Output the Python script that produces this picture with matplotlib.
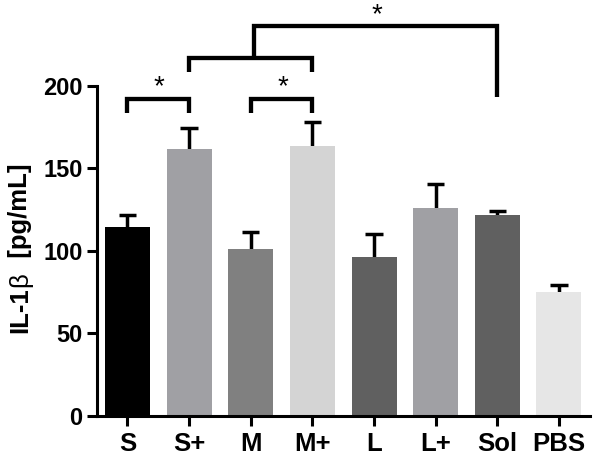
import matplotlib
matplotlib.use("Agg")
import matplotlib.pyplot as plt
from matplotlib.transforms import IdentityTransform

categories = ["S", "S+", "M", "M+", "L", "L+", "Sol", "PBS"]
means = [114.7, 161.8, 101.2, 163.8, 96.5, 125.9, 121.8, 75.3]
errors = [7.0, 13.0, 10.5, 14.5, 14.0, 14.5, 2.5, 4.0]
colors = ["#000000", "#a0a0a4", "#808080", "#d4d4d4", "#606060", "#a0a0a4", "#606060", "#e6e6e6"]
yticks = [0, 50, 100, 150, 200]

plt.rcParams['font.family'] = ['Liberation Sans', 'DejaVu Sans']

fig = plt.figure(figsize=(6.0, 4.59), dpi=100)
ax = fig.add_axes([0.161, 0.0937, 0.823, 0.719])

x = list(range(len(categories)))
ax.bar(x, means, width=0.73, color=colors, zorder=2)
tops = [m + e for m, e in zip(means, errors)]
ax.vlines(x, means, tops, color='black', lw=2.5, zorder=1)
ax.hlines(tops, [i - 0.14 for i in x], [i + 0.14 for i in x], color='black', lw=2.5, zorder=1)

ax.set_xlim(-0.5, 7.51)
ax.set_ylim(0, 200)
ax.set_yticks(yticks)
ax.set_xticks(x)
ax.set_xticklabels(categories, fontsize=18.5, fontweight='bold')
ax.set_yticklabels([str(t) for t in yticks], fontsize=17, fontweight='bold')
for s in ['top', 'right']:
    ax.spines[s].set_visible(False)
for s in ['left', 'bottom']:
    ax.spines[s].set_linewidth(2.2)
ax.tick_params(axis='both', direction='out', length=7, width=2.2, color='black')
ax.tick_params(axis='y', pad=3)
ax.tick_params(axis='x', pad=4.5)

lw = 3.1
kw = dict(color='black', lw=lw, clip_on=False, solid_joinstyle='miter', solid_capstyle='butt')
# bracket S vs S+
ax.plot([0, 0, 1, 1], [183.6, 192.3, 192.3, 183.6], **kw)
ax.text(0.51, 199, "*", ha='center', va='center', fontsize=20)
# bracket M vs M+
ax.plot([2, 2, 3, 3], [183.6, 192.3, 192.3, 183.6], **kw)
ax.text(2.52, 199, "*", ha='center', va='center', fontsize=20)
# bracket S+ to M+
ax.plot([1, 1, 3, 3], [208.7, 216.8, 216.8, 208.7], **kw)
# bracket group vs Sol
ax.plot([2.05, 2.05, 6, 6], [216.8, 236.5, 236.5, 193.5], **kw)
ax.text(4.04, 243, "*", ha='center', va='center', fontsize=20)

# y-axis label with bold text and regular beta (pixel coordinates, origin bottom-left)
fig.canvas.draw()
renderer = fig.canvas.get_renderer()
pieces = [("IL-1", 'bold'), ("β", 'normal'), ("  [pg/mL]", 'bold')]
label_size = 18.5
base_x = 27.5
texts = []
lengths = []
for s, w in pieces:
    t = fig.text(base_x, 0, s, rotation=90, rotation_mode='anchor', ha='left', va='baseline',
                 fontsize=label_size, fontweight=w, transform=IdentityTransform())
    texts.append(t)
    lengths.append(t.get_window_extent(renderer).height)
total = sum(lengths)
center_y = 459 - 248
y = center_y - total / 2
for t, L in zip(texts, lengths):
    t.set_position((base_x, y))
    y += L

fig.savefig("out.png", dpi=100)
